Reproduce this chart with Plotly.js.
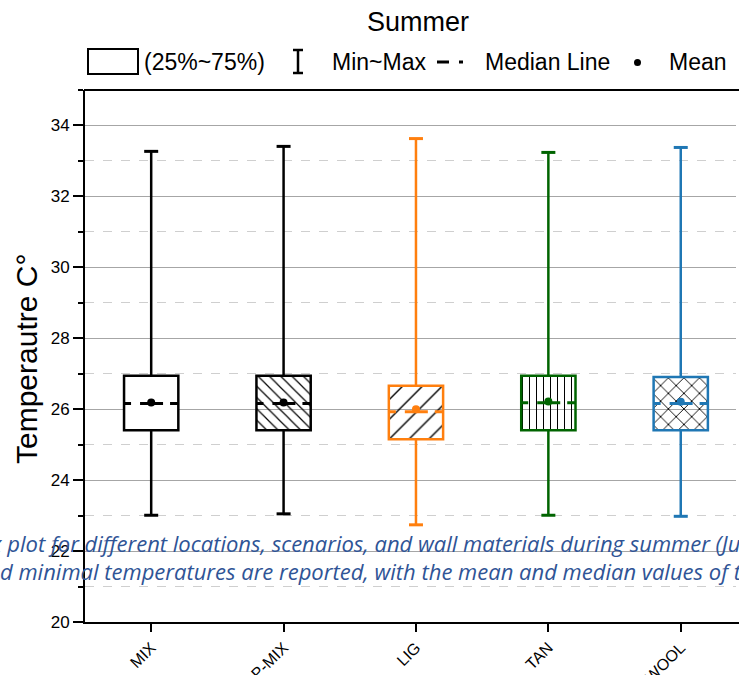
<!DOCTYPE html>
<html>
<head>
<meta charset="utf-8">
<script src="https://cdn.plot.ly/plotly-3.0.1.min.js"></script>
<style>html,body{margin:0;padding:0;background:#fff;overflow:hidden;}#chart{width:739px;height:675px;}</style>
</head>
<body>
<div id="chart"></div>
<script>
// ---- data ----
const categories = ['MIX', 'P-MIX', 'LIG', 'TAN', 'WOOL'];
const minVals    = [23.01, 23.05, 22.74, 23.01, 22.98];
const q1Vals     = [25.41, 25.41, 25.15, 25.41, 25.41];
const medianVals = [26.16, 26.16, 25.93, 26.18, 26.16];
const meanVals   = [26.19, 26.19, 26.00, 26.22, 26.21];
const q3Vals     = [26.94, 26.94, 26.66, 26.94, 26.91];
const maxVals    = [33.27, 33.41, 33.63, 33.24, 33.38];
const colors     = ['#000000', '#000000', '#FF7F0E', '#006400', '#1F77B4'];
const patterns   = ['', '\\', '/', '|', 'x'];
const patternSizes = [8, 8, 14, 7, 11];
const patternSolidity = [0.12, 0.15, 0.1, 0.15, 0.16];
const yTickVals  = [20, 22, 24, 26, 28, 30, 32, 34];
const titleText  = 'Summer';
const yTitleText = 'Temperautre C°';
const legendLabels = ['(25%~75%)', 'Min~Max', 'Median Line', 'Mean'];
const captionLines = [
  'x plot for different locations, scenarios, and wall materials during summer (June',
  'd minimal temperatures are reported, with the mean and median values of the'
];

const FONT = 'Liberation Sans, Arial, sans-serif';
const idx = categories.map((_, i) => i);
const boxW = 0.41;
const hw = boxW / 2;

const traces = [];
traces.push({
  type: 'bar',
  x: idx,
  base: q1Vals,
  y: q3Vals.map((v, i) => v - q1Vals[i]),
  width: boxW,
  marker: {
    color: '#ffffff',
    line: {color: colors, width: 2.5},
    pattern: {shape: patterns, size: patternSizes, solidity: patternSolidity, fgcolor: '#000000', fillmode: 'replace'}
  },
  hoverinfo: 'skip'
});

idx.forEach(i => {
  const c = colors[i];
  traces.push({
    type: 'scatter', mode: 'lines',
    x: [i, i, null, i, i],
    y: [q3Vals[i], maxVals[i], null, q1Vals[i], minVals[i]],
    line: {color: c, width: 2.5}, hoverinfo: 'skip'
  });
  traces.push({
    type: 'scatter', mode: 'markers',
    x: [i, i], y: [maxVals[i], minVals[i]],
    marker: {symbol: 'line-ew', size: 10, line: {color: c, width: 3}},
    hoverinfo: 'skip'
  });
  traces.push({
    type: 'scatter', mode: 'lines',
    x: [i - hw, i + hw], y: [medianVals[i], medianVals[i]],
    line: {color: c, width: 3, dash: '7px,9px,23px,7px,8px'}, hoverinfo: 'skip'
  });
  traces.push({
    type: 'scatter', mode: 'markers',
    x: [i], y: [meanVals[i]],
    marker: {symbol: 'circle', size: 8, color: c}, hoverinfo: 'skip'
  });
});

const L = 85, W = 654, T = 90, H = 532;
const px = v => (v - L) / W;
const py = v => (T + H - v) / H;

const shapes = [
  // hide stray right edge line (reference plot continues past the window)
  {type: 'rect', layer: 'above', xref: 'paper', yref: 'paper', x0: px(736), x1: px(742), y0: py(620), y1: py(88), fillcolor: '#ffffff', line: {width: 0}},
  // top frame line
  {type: 'line', layer: 'above', xref: 'paper', yref: 'paper', x0: px(84), x1: px(745), y0: 1, y1: 1, line: {color: '#000', width: 2}},
  // legend icons
  {type: 'rect', xref: 'paper', yref: 'paper', x0: px(88), x1: px(138), y0: py(74), y1: py(49), line: {color: '#000', width: 2}},
  {type: 'line', xref: 'paper', yref: 'paper', x0: px(298), x1: px(298), y0: py(73), y1: py(50), line: {color: '#000', width: 2.5}},
  {type: 'line', xref: 'paper', yref: 'paper', x0: px(293), x1: px(303), y0: py(50), y1: py(50), line: {color: '#000', width: 2.5}},
  {type: 'line', xref: 'paper', yref: 'paper', x0: px(293), x1: px(303), y0: py(73), y1: py(73), line: {color: '#000', width: 2.5}},
  {type: 'line', xref: 'paper', yref: 'paper', x0: px(437), x1: px(449), y0: py(62), y1: py(62), line: {color: '#000', width: 3}},
  {type: 'line', xref: 'paper', yref: 'paper', x0: px(459), x1: px(463), y0: py(62), y1: py(62), line: {color: '#000', width: 3}},
  {type: 'circle', xref: 'paper', yref: 'paper', x0: px(634), x1: px(641), y0: py(66), y1: py(59), fillcolor: '#000', line: {color: '#000', width: 0}}
];

const legendFont = {family: FONT, size: 23, color: '#000'};
const captionFont = {family: 'Open Sans, sans-serif', size: 22, color: '#2F5496', style: 'italic'};
const annotations = [
  {xref: 'paper', yref: 'paper', x: px(26), y: py(359), text: yTitleText, textangle: -90, showarrow: false,
   font: {family: FONT, size: 30, color: '#000'}, xanchor: 'center', yanchor: 'middle'},
  {xref: 'paper', yref: 'paper', x: px(142), y: py(62), text: legendLabels[0], showarrow: false, xanchor: 'left', yanchor: 'middle', font: legendFont},
  {xref: 'paper', yref: 'paper', x: px(330), y: py(62), text: legendLabels[1], showarrow: false, xanchor: 'left', yanchor: 'middle', font: legendFont},
  {xref: 'paper', yref: 'paper', x: px(483), y: py(62), text: legendLabels[2], showarrow: false, xanchor: 'left', yanchor: 'middle', font: legendFont},
  {xref: 'paper', yref: 'paper', x: px(667), y: py(62), text: legendLabels[3], showarrow: false, xanchor: 'left', yanchor: 'middle', font: legendFont},
  {xref: 'paper', yref: 'paper', x: px(-12), y: py(543), text: captionLines[0], showarrow: false, xanchor: 'left', yanchor: 'middle', font: captionFont},
  {xref: 'paper', yref: 'paper', x: px(-2), y: py(571), text: captionLines[1], showarrow: false, xanchor: 'left', yanchor: 'middle', font: captionFont}
];

const layout = {
  width: 739, height: 675,
  margin: {l: L, r: 0, t: T, b: 53, pad: 0},
  paper_bgcolor: '#ffffff', plot_bgcolor: '#ffffff',
  showlegend: false,
  title: {text: titleText, font: {family: FONT, size: 27, color: '#000'}, xref: 'paper', x: px(418), xanchor: 'center',
          yref: 'container', y: 1 - 22 / 675, yanchor: 'middle'},
  xaxis: {
    range: [-0.5, 4.44], tickmode: 'array', tickvals: idx, ticktext: categories, tickangle: -45,
    ticks: 'outside', ticklen: 8, tickwidth: 2, tickcolor: '#000',
    showline: true, linewidth: 2, linecolor: '#000', mirror: false,
    showgrid: false, zeroline: false,
    tickfont: {family: FONT, size: 16, color: '#000'}
  },
  yaxis: {
    range: [20, 35], tickmode: 'array', tickvals: yTickVals,
    ticks: 'outside', ticklen: 10, tickwidth: 2, tickcolor: '#000',
    showline: true, linewidth: 2, linecolor: '#000', mirror: false,
    showgrid: true, gridcolor: '#a6a6a6', gridwidth: 1, zeroline: false,
    tickfont: {family: FONT, size: 17, color: '#000'},
    minor: {dtick: 1, tick0: 20, ticks: 'outside', ticklen: 5, tickwidth: 2, tickcolor: '#000',
            showgrid: true, gridcolor: '#cfcfcf', griddash: 'dash', gridwidth: 1}
  },
  shapes: shapes,
  annotations: annotations
};

Plotly.newPlot('chart', traces, layout, {displayModeBar: false, staticPlot: true});
</script>
</body>
</html>
